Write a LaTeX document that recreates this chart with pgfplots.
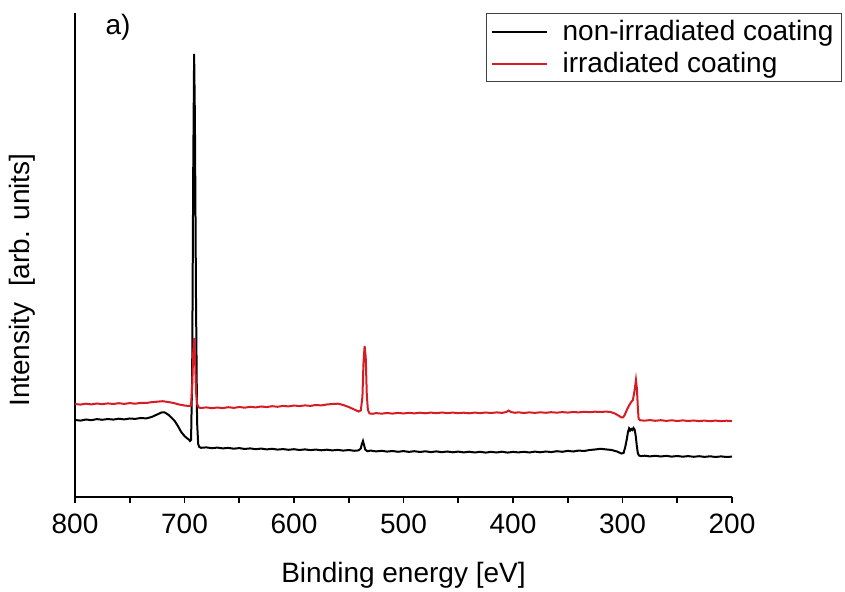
\documentclass[border=0pt]{standalone}
\usepackage{fontspec}
\setmainfont{Liberation Sans}
\usepackage{pgfplots}
\pgfplotsset{compat=1.18}
\definecolor{myred}{RGB}{214,28,34}
\begin{document}
\begin{tikzpicture}
\path[use as bounding box] (-37.5pt,-47.5pt) rectangle (385pt,248.5pt);
\begin{axis}[
  scale only axis, width=328.5pt, height=242pt,
  at={(0,0)}, anchor=south west,
  x dir=reverse, xmin=200, xmax=800, ymin=0, ymax=484,
  axis x line*=bottom, axis y line*=left,
  axis line style={line width=1pt},
  xtick={200,300,...,800}, minor x tick num=1, ytick=\empty,
  xtick align=outside, major tick length=3pt, minor tick length=3pt,
  every tick/.style={line width=0.8pt, black},
  /pgf/number format/assume math mode=true,
  /pgf/number format/.cd, set thousands separator={}, /pgfplots/.cd,
  tick label style={font=\fontsize{14}{16}\selectfont},
  xticklabel style={yshift=-2pt},
  clip=false,
  xlabel={Binding energy [eV]},
  ylabel={Intensity\ \ [arb. units]},
  every axis x label/.style={at={(axis description cs:0.5,0)}, anchor=center, yshift=-39pt, font=\fontsize{14}{16}\selectfont},
  every axis y label/.style={at={(axis description cs:0,0.448)}, anchor=center, xshift=-26.5pt, rotate=90, font=\fontsize{14}{16}\selectfont},
  legend cell align=left,
  legend image code/.code={\draw[#1] (0pt,0pt) -- (27.5pt,0pt); \path (33pt,0pt);},
  legend style={at={(axis description cs:1.1674,1)}, anchor=north east, draw=black!75, line width=0.5pt, font=\fontsize{14}{16}\selectfont, inner xsep=2pt, inner ysep=1.2pt, row sep=0.5pt},
]
\addplot[black, line width=1pt] coordinates {
(800,77.0)(795,76.4)(790,77.5)(785,76.8)(780,77.9)(775,77.2)(770,78.0)(765,77.4)(760,78.3)(755,77.6)
(750,78.5)(745,78.1)(740,79.0)(735,78.6)(730,80.0)(727,81.5)(724,83.0)(721,84.5)(718,84.5)(715,82.5)
(712,79.5)(709,76.0)(706,71.0)(703,65.0)(700,61.0)(698,59.0)(696,57.5)(695,56.0)(694,57.0)(693,120)
(692,330)(691.2,443)(690.5,380)(689.5,200)(688.5,75)(687.5,53)(686.5,50)(685,49.2)(680,49.6)(675,48.8)
(670,49.4)(665,48.6)(660,49.1)(655,48.3)(650,48.9)(645,48.0)(640,48.6)(635,47.8)(630,48.4)(625,47.6)
(620,48.2)(615,47.4)(610,47.9)(605,47.2)(600,47.8)(595,47.0)(590,47.6)(585,46.9)(580,47.4)(575,46.7)
(570,47.3)(565,46.6)(560,47.1)(555,46.4)(550,47.0)(545,46.2)(541,46.6)(539,48.5)(538,53)(537,56)
(536,52)(535,47.5)(533,45.8)(530,46.4)(525,45.6)(520,46.2)(515,45.4)(510,46.0)(505,45.2)(500,45.9)
(495,45.1)(490,45.8)(485,45.0)(480,45.7)(475,44.9)(470,45.6)(465,44.8)(460,45.5)(455,44.7)(450,45.4)
(445,44.6)(440,45.3)(435,44.5)(430,45.2)(425,44.4)(420,45.1)(415,44.5)(410,45.3)(405,44.4)(400,45.1)
(395,44.6)(390,45.2)(385,44.5)(380,45.4)(375,44.7)(370,45.5)(365,44.9)(360,45.8)(355,45.2)(350,46.1)
(345,45.5)(340,46.4)(335,46.0)(330,47.0)(325,47.5)(320,48.2)(315,47.6)(310,47.0)(305,45.5)(301,43.5)
(299,44.0)(297.5,50)(296,58)(295,65)(294,68.5)(293,66.5)(292,68)(291,67)(290,69)(289,67.5)
(288,62)(287,52)(286,44)(285,41.5)(283,40.8)(280,41.3)(275,40.6)(270,41.2)(265,40.5)(260,41.1)
(255,40.4)(250,41.0)(245,40.3)(240,40.9)(235,40.2)(230,40.8)(225,40.1)(220,40.7)(215,40.0)(210,40.6)
(205,40.0)(200,40.4)
};
\addlegendentry{non-irradiated coating}
\addplot[myred, line width=1pt] coordinates {
(800,93.0)(795,92.4)(790,93.3)(785,92.6)(780,93.5)(775,92.8)(770,93.6)(765,93.0)(760,93.8)(755,93.1)
(750,93.9)(745,93.3)(740,94.1)(735,94.0)(730,94.8)(725,95.3)(720,95.8)(715,95.0)(710,94.0)(705,92.5)
(700,91.5)(696,91.0)(694,91.5)(693,110)(692,145)(691.2,159)(690.4,140)(689.5,106)(688.5,93)(687,89.5)
(685,89.0)(680,89.6)(675,88.8)(670,89.5)(665,88.9)(660,89.8)(655,89.1)(650,90.0)(645,89.3)(640,90.2)
(635,89.6)(630,90.5)(625,89.9)(620,90.8)(615,90.2)(610,91.1)(605,90.6)(600,91.5)(595,90.9)(590,91.6)
(585,91.1)(580,92.0)(575,91.6)(570,92.5)(565,93.0)(560,93.3)(555,92.0)(550,90.0)(545,87.5)(541,85.5)
(539,86.5)(537.5,100)(536.5,135)(535.5,151)(534.5,140)(533.5,102)(532.5,87)(531,83.5)(528,83.2)(525,83.9)
(520,83.3)(515,84.0)(510,83.4)(505,84.1)(500,83.5)(495,84.2)(490,83.6)(485,84.3)(480,83.7)(475,84.4)
(470,83.8)(465,84.5)(460,83.9)(455,84.4)(450,83.8)(445,84.3)(440,83.7)(435,84.4)(430,83.9)(425,84.5)
(420,84.0)(415,84.6)(410,84.1)(406,85.0)(404,86.5)(402,85.0)(398,84.2)(395,84.7)(390,84.0)(385,84.6)
(380,84.1)(375,84.7)(370,84.2)(365,84.8)(360,84.3)(355,84.9)(350,84.4)(345,85.0)(340,84.6)(335,85.2)
(330,84.8)(325,85.3)(320,85.0)(315,85.4)(311,85.0)(307,83.5)(303,81.0)(301,79.5)(299.5,79.5)(298,82)
(296,87)(294,91.5)(292,95)(290.5,97)(289,106)(287.7,117)(286.8,108)(286,90)(285.3,78.5)(284,76.8)
(280,76.3)(275,76.9)(270,76.2)(265,76.8)(260,76.1)(255,76.7)(250,76.0)(245,76.6)(240,76.0)(235,76.5)
(230,75.9)(225,76.4)(220,75.8)(215,76.4)(210,75.8)(205,76.3)(200,75.9)
};
\addlegendentry{irradiated coating}
\node[font=\fontsize{14}{16}\selectfont] at (axis description cs:0.0654,0.971) {a)};
\end{axis}
\end{tikzpicture}
\end{document}
